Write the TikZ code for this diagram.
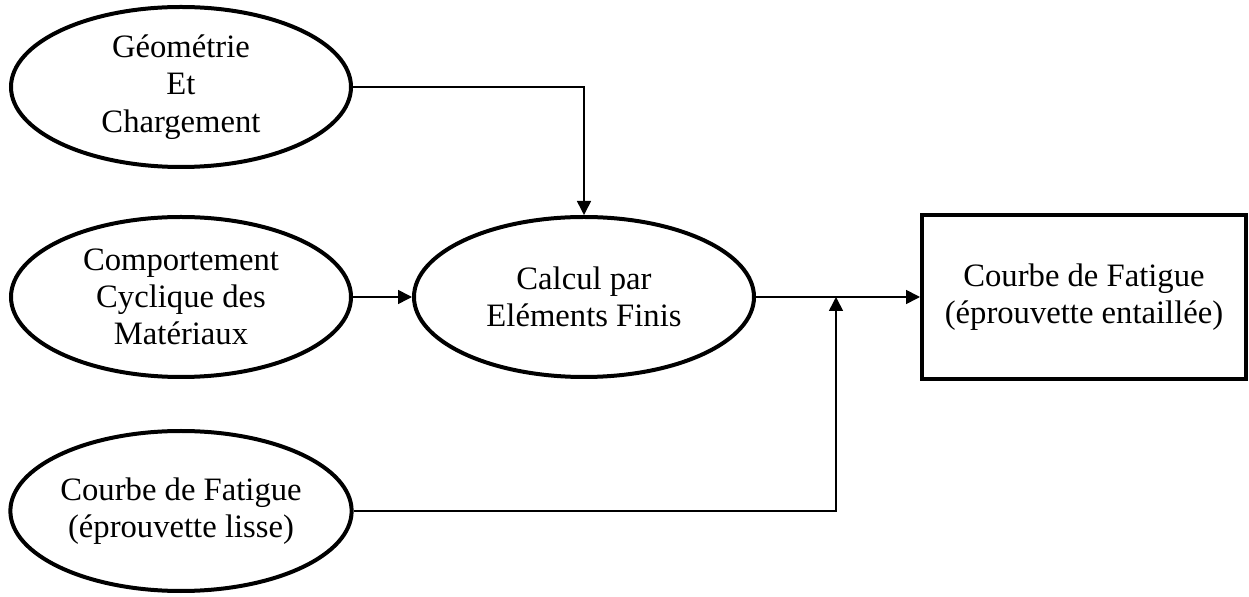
\documentclass[tikz,border=0pt]{standalone}
\usepackage{fontspec}
\setmainfont{Liberation Serif}
\usetikzlibrary{shapes.geometric,arrows.meta}

\begin{document}
\begin{tikzpicture}[x=0.75pt, y=0.75pt, >={Triangle[length=10.5pt,width=10.5pt]},
	bulle/.style={ellipse, draw, line width=3pt, inner sep=0pt,
		minimum width=255pt, minimum height=120pt, align=center,
		font=\fontsize{24.5}{28}\selectfont},
	cadre/.style={rectangle, draw, line width=3pt, inner sep=0pt,
		minimum width=243pt, minimum height=123pt, align=center,
		font=\fontsize{24.5}{28}\selectfont},
	lien/.style={line width=1.2pt}]
	\useasboundingbox (0,0) rectangle (1249,596);
	% Ellipses d'entrée
	\node[bulle] (geo) at (181, 509) {Géométrie\\Et\\Chargement};
	\node[bulle] (comp) at (181, 299) {Comportement\\Cyclique des\\Matériaux};
	\node[bulle] (lisse) at (181, 85) {Courbe de Fatigue\\(éprouvette lisse)};
	
	% Calcul et résultat
	\node[bulle] (calc) at (584, 299) {Calcul par\\Eléments Finis};
	\node[cadre] (res) at (1084, 299) {Courbe de Fatigue\\(éprouvette entaillée)};
	\coordinate (jonc) at (836, 299);
	
	% Liaisons
	\draw[lien, ->] (geo.east) -| (calc.north);
	\draw[lien, ->] (comp.east) -- (calc.west);
	\draw[lien, ->] (calc.east) -- (res.west);
	\draw[lien, ->] (lisse.east) -| (jonc);
\end{tikzpicture}
\end{document}
